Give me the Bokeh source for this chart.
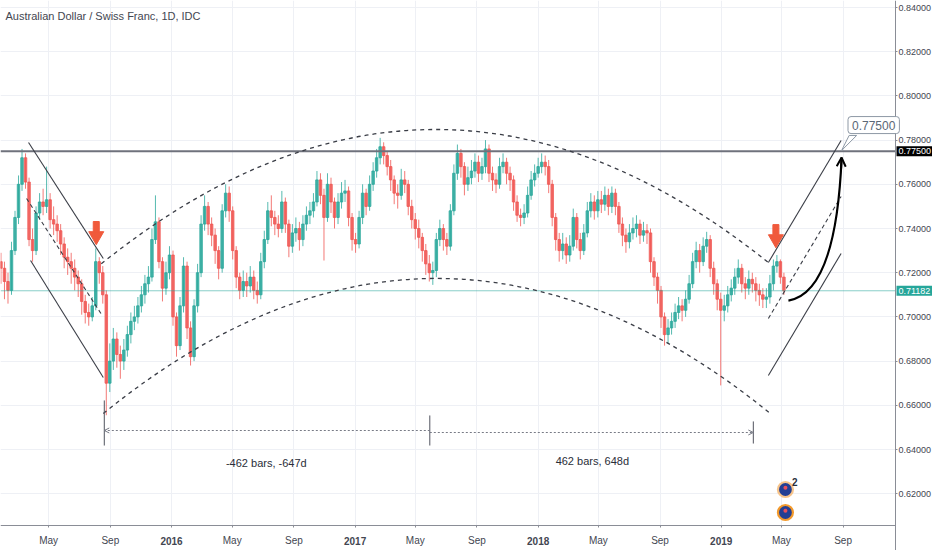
import pandas as pd
from datetime import datetime, timedelta
from bokeh.plotting import figure
from bokeh.models import (ColumnDataSource, FixedTicker, PrintfTickFormatter,
                          Label, Arrow, OpenHead, BoxAnnotation)
from bokeh.embed import file_html
from bokeh.resources import INLINE

# ---------------- data (weekly candles) ----------------
TITLE = "Australian Dollar / Swiss Franc, 1D, IDC"
week_start = "2015-01-26"
first_open = 0.7250
close = [
    0.7220, 0.7160, 0.7120, 0.7300, 0.7450, 0.7600, 0.7720, 0.7610, 0.7350, 0.7300,
    0.7470, 0.7520, 0.7500, 0.7530, 0.7440, 0.7420, 0.7390, 0.7330, 0.7270, 0.7250,
    0.7220, 0.7180, 0.7150, 0.7070, 0.7020, 0.7000, 0.7050, 0.7250, 0.7200, 0.7100,
    0.6700, 0.6800, 0.6900, 0.6830, 0.6800, 0.6850, 0.6920, 0.6980, 0.7000, 0.7050,
    0.7100, 0.7150, 0.7180, 0.7350, 0.7430, 0.7250, 0.7130, 0.7200, 0.7280, 0.7000,
    0.6870, 0.7050, 0.7230, 0.6950, 0.6820, 0.7050, 0.7200, 0.7420, 0.7500, 0.7420,
    0.7370, 0.7300, 0.7220, 0.7480, 0.7560, 0.7480, 0.7300, 0.7180, 0.7120, 0.7160,
    0.7140, 0.7180, 0.7120, 0.7100, 0.7250, 0.7350, 0.7480, 0.7450, 0.7420, 0.7400,
    0.7520, 0.7420, 0.7320, 0.7380, 0.7400, 0.7350, 0.7420, 0.7460, 0.7480, 0.7520,
    0.7620, 0.7550, 0.7450, 0.7600, 0.7520, 0.7450, 0.7520, 0.7560, 0.7570, 0.7450,
    0.7350, 0.7330, 0.7450, 0.7560, 0.7500, 0.7600, 0.7660, 0.7720, 0.7770, 0.7730,
    0.7680, 0.7620, 0.7560, 0.7550, 0.7620, 0.7600, 0.7500, 0.7440, 0.7400, 0.7360,
    0.7300, 0.7240, 0.7200, 0.7210, 0.7350, 0.7400, 0.7350, 0.7320, 0.7480, 0.7650,
    0.7740, 0.7680, 0.7600, 0.7630, 0.7660, 0.7700, 0.7650, 0.7680, 0.7760, 0.7650,
    0.7620, 0.7600, 0.7680, 0.7700, 0.7650, 0.7620, 0.7520, 0.7460, 0.7450, 0.7470,
    0.7550, 0.7620, 0.7650, 0.7680, 0.7700, 0.7680, 0.7600, 0.7450, 0.7350, 0.7300,
    0.7330, 0.7280, 0.7320, 0.7450, 0.7350, 0.7300, 0.7380, 0.7480, 0.7520, 0.7480,
    0.7530, 0.7510, 0.7550, 0.7500, 0.7560, 0.7500, 0.7420, 0.7370, 0.7340, 0.7380,
    0.7400, 0.7420, 0.7370, 0.7390, 0.7380, 0.7250, 0.7180, 0.7120, 0.7000, 0.6920,
    0.6950, 0.6980, 0.7020, 0.7050, 0.7030, 0.7080, 0.7150, 0.7250, 0.7300, 0.7250,
    0.7320, 0.7350, 0.7220, 0.7150, 0.7080, 0.7030, 0.7050, 0.7100, 0.7130, 0.7180,
    0.7220, 0.7150, 0.7130, 0.7170, 0.7150, 0.7120, 0.7100, 0.7080, 0.7090, 0.7150,
    0.7230, 0.7250, 0.7180, 0.7118,
]
high = [
    0.7290, 0.7250, 0.7200, 0.7340, 0.7480, 0.7640, 0.7760, 0.7740, 0.7630, 0.7400,
    0.7500, 0.7560, 0.7580, 0.7680, 0.7560, 0.7500, 0.7460, 0.7420, 0.7360, 0.7310,
    0.7290, 0.7260, 0.7210, 0.7170, 0.7100, 0.7060, 0.7090, 0.7310, 0.7270, 0.7230,
    0.7120, 0.6880, 0.6950, 0.6930, 0.6870, 0.6900, 0.6960, 0.7020, 0.7050, 0.7090,
    0.7140, 0.7190, 0.7230, 0.7400, 0.7550, 0.7450, 0.7270, 0.7250, 0.7320, 0.7300,
    0.7020, 0.7090, 0.7270, 0.7250, 0.6980, 0.7080, 0.7240, 0.7460, 0.7550, 0.7520,
    0.7450, 0.7400, 0.7320, 0.7510, 0.7600, 0.7590, 0.7500, 0.7320, 0.7200, 0.7210,
    0.7200, 0.7230, 0.7210, 0.7160, 0.7290, 0.7390, 0.7520, 0.7550, 0.7480, 0.7460,
    0.7570, 0.7540, 0.7440, 0.7420, 0.7450, 0.7430, 0.7460, 0.7500, 0.7520, 0.7560,
    0.7660, 0.7650, 0.7580, 0.7650, 0.7630, 0.7540, 0.7560, 0.7610, 0.7620, 0.7590,
    0.7470, 0.7380, 0.7480, 0.7600, 0.7580, 0.7640, 0.7700, 0.7760, 0.7810, 0.7790,
    0.7750, 0.7710, 0.7640, 0.7600, 0.7670, 0.7660, 0.7620, 0.7530, 0.7470, 0.7440,
    0.7380, 0.7330, 0.7280, 0.7250, 0.7380, 0.7440, 0.7420, 0.7380, 0.7510, 0.7690,
    0.7780, 0.7760, 0.7700, 0.7680, 0.7710, 0.7740, 0.7730, 0.7720, 0.7800, 0.7780,
    0.7680, 0.7650, 0.7720, 0.7740, 0.7720, 0.7680, 0.7640, 0.7550, 0.7490, 0.7510,
    0.7590, 0.7660, 0.7690, 0.7720, 0.7740, 0.7730, 0.7710, 0.7620, 0.7470, 0.7380,
    0.7380, 0.7360, 0.7370, 0.7490, 0.7470, 0.7380, 0.7420, 0.7520, 0.7560, 0.7550,
    0.7570, 0.7570, 0.7590, 0.7580, 0.7590, 0.7580, 0.7520, 0.7450, 0.7400, 0.7420,
    0.7450, 0.7460, 0.7440, 0.7430, 0.7420, 0.7400, 0.7270, 0.7200, 0.7140, 0.7020,
    0.6990, 0.7020, 0.7060, 0.7090, 0.7080, 0.7120, 0.7190, 0.7290, 0.7340, 0.7330,
    0.7360, 0.7385, 0.7370, 0.7250, 0.7170, 0.7110, 0.7100, 0.7140, 0.7170, 0.7220,
    0.7260, 0.7240, 0.7180, 0.7210, 0.7200, 0.7180, 0.7150, 0.7130, 0.7130, 0.7190,
    0.7260, 0.7280, 0.7260, 0.7200,
]
low = [
    0.7150, 0.7080, 0.7060, 0.7100, 0.7280, 0.7420, 0.7570, 0.7580, 0.7320, 0.7250,
    0.7280, 0.7440, 0.7460, 0.7470, 0.7400, 0.7370, 0.7340, 0.7280, 0.7220, 0.7190,
    0.7150, 0.7120, 0.7090, 0.7010, 0.6970, 0.6960, 0.6980, 0.7030, 0.7150, 0.7060,
    0.6555, 0.6660, 0.6760, 0.6770, 0.6720, 0.6760, 0.6820, 0.6880, 0.6940, 0.6970,
    0.7020, 0.7060, 0.7110, 0.7160, 0.7330, 0.7220, 0.7070, 0.7100, 0.7170, 0.6960,
    0.6820, 0.6850, 0.7020, 0.6900, 0.6780, 0.6800, 0.7020, 0.7180, 0.7390, 0.7370,
    0.7320, 0.7240, 0.7170, 0.7200, 0.7450, 0.7430, 0.7260, 0.7130, 0.7080, 0.7090,
    0.7090, 0.7110, 0.7080, 0.7060, 0.7080, 0.7220, 0.7330, 0.7410, 0.7370, 0.7360,
    0.7380, 0.7380, 0.7270, 0.7290, 0.7340, 0.7300, 0.7320, 0.7390, 0.7420, 0.7450,
    0.7500, 0.7510, 0.7255, 0.7430, 0.7470, 0.7400, 0.7420, 0.7490, 0.7520, 0.7410,
    0.7300, 0.7290, 0.7310, 0.7420, 0.7460, 0.7480, 0.7570, 0.7630, 0.7690, 0.7690,
    0.7640, 0.7570, 0.7510, 0.7490, 0.7530, 0.7560, 0.7460, 0.7400, 0.7350, 0.7310,
    0.7250, 0.7190, 0.7160, 0.7145, 0.7180, 0.7320, 0.7300, 0.7280, 0.7300, 0.7460,
    0.7620, 0.7630, 0.7550, 0.7570, 0.7600, 0.7630, 0.7610, 0.7620, 0.7650, 0.7610,
    0.7570, 0.7560, 0.7580, 0.7650, 0.7600, 0.7570, 0.7480, 0.7430, 0.7410, 0.7420,
    0.7450, 0.7530, 0.7590, 0.7630, 0.7650, 0.7640, 0.7560, 0.7410, 0.7300, 0.7250,
    0.7260, 0.7240, 0.7250, 0.7300, 0.7310, 0.7260, 0.7280, 0.7360, 0.7450, 0.7440,
    0.7450, 0.7470, 0.7480, 0.7460, 0.7470, 0.7460, 0.7380, 0.7320, 0.7290, 0.7310,
    0.7350, 0.7360, 0.7330, 0.7340, 0.7330, 0.7200, 0.7140, 0.7060, 0.6950, 0.6870,
    0.6880, 0.6920, 0.6950, 0.6990, 0.6980, 0.7000, 0.7060, 0.7130, 0.7220, 0.7200,
    0.7230, 0.7290, 0.7180, 0.7100, 0.7030, 0.6690, 0.6980, 0.7020, 0.7070, 0.7100,
    0.7150, 0.7110, 0.7080, 0.7100, 0.7110, 0.7070, 0.7050, 0.7040, 0.7040, 0.7060,
    0.7120, 0.7200, 0.7150, 0.7100,
]
last_price = 0.71182
resistance = 0.775

price_ticks = [0.62, 0.64, 0.66, 0.68, 0.70, 0.72, 0.74, 0.76, 0.78, 0.80, 0.82, 0.84]
month_ticks = ["2015-05-01", "2015-09-01", "2016-01-01", "2016-05-01", "2016-09-01",
               "2017-01-01", "2017-05-01", "2017-09-01", "2018-01-01", "2018-05-01",
               "2018-09-01", "2019-01-01", "2019-05-01", "2019-09-01"]
month_labels = ["May", "Sep", "2016", "May", "Sep", "2017", "May", "Sep", "2018",
                "May", "Sep", "2019", "May", "Sep"]

# ---------------- drawings (date, price) ----------------
channel_upper = [("2015-03-22", 0.7789), ("2015-08-18", 0.7264)]
channel_lower = [("2015-03-26", 0.7255), ("2015-08-18", 0.6726)]
channel_mid = [("2015-03-18", 0.7536), ("2015-08-16", 0.7006)]
upper_arc = [("2015-08-14", 0.7240), ("2017-06-09", 0.8453), ("2019-04-05", 0.7246)]
lower_arc = [("2015-08-18", 0.6563), ("2017-06-13", 0.7785), ("2019-04-09", 0.6563)]
proj_upper = [("2019-04-05", 0.7246), ("2019-08-28", 0.7798)]
proj_mid = [("2019-04-05", 0.6993), ("2019-08-28", 0.7545)]
proj_lower = [("2019-04-05", 0.6735), ("2019-08-28", 0.7287)]
path_curve = [("2019-05-15", 0.7074), ("2019-08-18", 0.7110), ("2019-08-29", 0.7721)]
path_head_from = ("2019-08-28", 0.7670)
range_marks = [("2015-08-20", 0.6622, 0.6418), ("2017-05-30", 0.6554, 0.6418),
               ("2019-03-06", 0.6527, 0.6427)]
range_levels = [0.6486, 0.6477]
range_texts = [("2016-07-08", 0.6337, "-462 bars, -647d"),
               ("2018-04-19", 0.6346, "462 bars, 648d")]
sell_marks = [("2015-08-04", 0.7409, 0.7366), ("2019-04-20", 0.7395, 0.7352)]
event_icons = [("2019-05-09", 0.6219), ("2019-05-09", 0.6115)]
event_count = ("2019-05-22", 0.6252, "2")
target_note = ("2019-11-01", 0.7868, "0.77500")
target_tail = [("2019-09-13", 0.7821), ("2019-08-29", 0.7753), ("2019-09-28", 0.7821)]


def ms(d):
    return int(pd.Timestamp(d).value // 10**6)


FONT = "Liberation Sans"
TXT = "#434651"
UP, DOWN = "#26a69a", "#ef5350"
AXIS_COL = "#8a8d96"

# ---------------- layout: frame = whole canvas, axes pinned at the reference edges ----------------
W, H = 932, 550
AX_X, AX_Y = 895, 525          # pixel position of the price axis / time axis in the reference
day0 = datetime(2016, 1, 1)
px_per_day = 183.2 / 365.25
px_per_unit = 2210.0


def date_at(px):
    return day0 + timedelta(days=(px - 171) / px_per_day)


def price_at(py):
    return 0.84 - (py - 7) / px_per_unit


x_start, x_end = date_at(0), date_at(W)
y_start, y_end = price_at(H), price_at(0)
axis_x = ms(date_at(AX_X))
axis_y = price_at(AX_Y)

p = figure(width=W, height=H, x_axis_type="datetime",
           x_range=(x_start, x_end), y_range=(y_start, y_end),
           y_axis_location="right", toolbar_location=None, output_backend="svg",
           min_border=0, min_border_left=0, min_border_top=0, min_border_right=0,
           min_border_bottom=0)
p.outline_line_color = None
p.background_fill_color = "white"

# axes
p.xaxis.ticker = FixedTicker(ticks=[ms(d) for d in month_ticks])
p.xaxis.major_label_overrides = {ms(d): ("" if lab.isdigit() else lab)
                                 for d, lab in zip(month_ticks, month_labels)}
p.xaxis.fixed_location = axis_y
p.xaxis.bounds = (ms(x_start), axis_x)
p.yaxis.ticker = FixedTicker(ticks=price_ticks)
p.yaxis.formatter = PrintfTickFormatter(format="%.5f")
p.yaxis.fixed_location = axis_x
for ax in (p.xaxis, p.yaxis):
    ax.axis_line_color = AXIS_COL
    ax.major_tick_line_color = AXIS_COL
    ax.major_tick_out = 2
    ax.major_tick_in = 0
    ax.minor_tick_line_color = None
    ax.major_label_text_font = FONT
    ax.major_label_text_color = TXT
    ax.major_label_standoff = 1
p.yaxis.major_label_text_font_size = "9px"
p.xaxis.major_label_text_font_size = "10px"
p.xaxis.major_label_standoff = 7
p.xgrid.grid_line_color = "#eef0f5"
p.ygrid.grid_line_color = "#eef0f5"

# keep the scale areas clear of grid lines
p.add_layout(BoxAnnotation(left=axis_x, fill_color="white", fill_alpha=1,
                           line_color=None, level="underlay"))
p.add_layout(BoxAnnotation(top=axis_y, fill_color="white", fill_alpha=1,
                           line_color=None, level="underlay"))

# bold year labels on the time scale
for d, lab in zip(month_ticks, month_labels):
    if lab.isdigit():
        p.add_layout(Label(x=ms(d), y=price_at(540), text=lab, text_align="center",
                           text_baseline="middle", text_font=FONT,
                           text_font_size="10px", text_font_style="bold",
                           text_color=TXT))

# candles
dates = pd.date_range(week_start, periods=len(close), freq="7D")
opens = [first_open] + close[:-1]
colors = [UP if c >= o else DOWN for o, c in zip(opens, close)]
src = ColumnDataSource(dict(
    x=dates, o=opens, c=close, h=high, l=low,
    top=[max(o, c) for o, c in zip(opens, close)],
    bot=[min(o, c) for o, c in zip(opens, close)],
    col=colors))
p.segment(x0="x", y0="l", x1="x", y1="h", line_color="col", line_width=1,
          line_alpha=0.78, source=src)
p.vbar(x="x", width=5 * 24 * 3600 * 1000, top="top", bottom="bot",
       fill_color="col", line_color="col", fill_alpha=0.78, line_alpha=0.78,
       source=src)

# horizontal levels (up to the price scale)
p.segment(x0=[ms(x_start)], y0=[last_price], x1=[axis_x], y1=[last_price],
          line_color=UP, line_alpha=0.55, line_width=1)
p.segment(x0=[ms(x_start)], y0=[resistance], x1=[axis_x], y1=[resistance],
          line_color="#6f727c", line_width=2)

# descending channel
for seg, dash in ((channel_upper, "solid"), (channel_lower, "solid"),
                  (channel_mid, "4 3")):
    p.line([ms(seg[0][0]), ms(seg[1][0])], [seg[0][1], seg[1][1]],
           line_color="#3a3d46", line_width=1.1, line_dash=dash)

# arcs
for arc in (upper_arc, lower_arc):
    p.quadratic(x0=[ms(arc[0][0])], y0=[arc[0][1]], cx=[ms(arc[1][0])],
                cy=[arc[1][1]], x1=[ms(arc[2][0])], y1=[arc[2][1]],
                line_color="#3a3d46", line_width=1.3, line_dash="4 4")

# projection channel
for seg, dash in ((proj_upper, "solid"), (proj_lower, "solid"), (proj_mid, "4 3")):
    p.line([ms(seg[0][0]), ms(seg[1][0])], [seg[0][1], seg[1][1]],
           line_color="#3a3d46", line_width=1.1, line_dash=dash)

# expected path
p.quadratic(x0=[ms(path_curve[0][0])], y0=[path_curve[0][1]],
            cx=[ms(path_curve[1][0])], cy=[path_curve[1][1]],
            x1=[ms(path_curve[2][0])], y1=[path_curve[2][1]],
            line_color="black", line_width=2.2)
p.add_layout(Arrow(end=OpenHead(size=9, line_width=2, line_color="black"),
                   x_start=ms(path_head_from[0]), y_start=path_head_from[1],
                   x_end=ms(path_curve[2][0]), y_end=path_curve[2][1],
                   line_color="black", line_width=2))

# date range measure
for d, ytop, ybot in range_marks:
    p.segment(x0=[ms(d)], y0=[ybot], x1=[ms(d)], y1=[ytop],
              line_color="#50535e", line_width=1)
mid = ms(range_marks[1][0])
p.add_layout(Arrow(end=OpenHead(size=5, line_width=1, line_color="#787b86"),
                   x_start=mid, y_start=range_levels[0],
                   x_end=ms(range_marks[0][0]), y_end=range_levels[0],
                   line_color="#787b86", line_width=1.2, line_dash="2 2"))
p.add_layout(Arrow(end=OpenHead(size=5, line_width=1, line_color="#787b86"),
                   x_start=mid, y_start=range_levels[1],
                   x_end=ms(range_marks[2][0]), y_end=range_levels[1],
                   line_color="#787b86", line_width=1.2, line_dash="2 2"))
for d, yv, t in range_texts:
    p.add_layout(Label(x=ms(d), y=yv, text=t, text_align="center",
                       text_baseline="middle", text_font=FONT,
                       text_font_size="11px", text_color="#2a2e39"))

# sell arrows
for d, ys, yh in sell_marks:
    p.rect(x=[ms(d)], y=[ys], width=6, height=10, width_units="screen",
           height_units="screen", fill_color="#f05a3c", line_color="#f05a3c")
    p.scatter(x=[ms(d)], y=[yh], marker="inverted_triangle", size=15,
              fill_color="#f05a3c", line_color="#f05a3c")

# event icons
p.scatter(x=[ms(d) for d, _ in event_icons], y=[v for _, v in event_icons],
          marker="circle", size=15, fill_color="#233f94",
          line_color=["#f7c48a", "#f39a2c"], line_width=2.2)
p.scatter(x=[ms(d) for d, _ in event_icons], y=[v + 0.0008 for _, v in event_icons],
          marker="circle", size=4, fill_color="#e8505b", line_color=None)
p.add_layout(Label(x=ms(event_count[0]), y=event_count[1], text=event_count[2],
                   text_font=FONT, text_font_size="10px", text_font_style="bold",
                   text_color="#2a2e39", text_baseline="middle"))

# target callout
p.patch([ms(d) for d, _ in target_tail], [v for _, v in target_tail],
        fill_color="white", line_color="#8d98a5", line_width=1)
p.add_layout(Label(x=ms(target_note[0]), y=target_note[1], text=target_note[2],
                   text_align="center", text_baseline="middle", text_font=FONT,
                   text_font_size="12px", text_color="#5b6776",
                   background_fill_color="white", border_line_color="#8d98a5",
                   border_line_width=1, padding=4, border_radius=3))

# price tags on the price scale
for yv, text, bg in ((resistance, "0.77500", "black"), (last_price, "0.71182", UP)):
    p.add_layout(Label(x=axis_x, y=yv, x_offset=1, text=text, text_align="left",
                       text_baseline="middle", text_font=FONT,
                       text_font_size="9px", text_color="white",
                       background_fill_color=bg, padding=2))

# title
p.add_layout(Label(x=ms(x_start), y=price_at(15), x_offset=5, text=TITLE,
                   text_align="left", text_baseline="middle", text_font=FONT,
                   text_font_size="11px", text_color=TXT))

open("out.html", "w").write(file_html(p, INLINE))
